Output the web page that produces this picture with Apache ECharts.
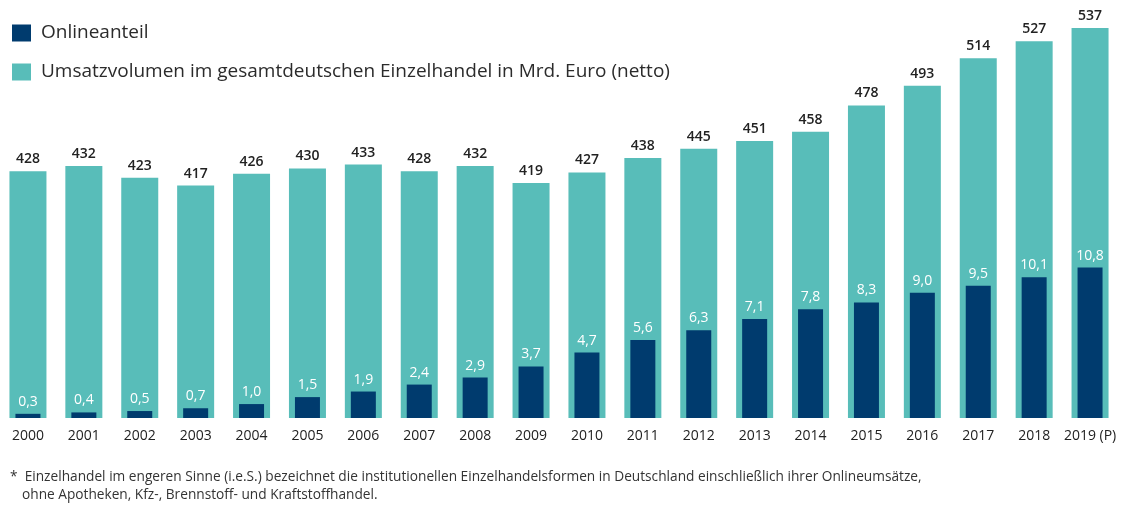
<!DOCTYPE html>
<html>
<head>
<meta charset="utf-8">
<script src="https://cdn.jsdelivr.net/npm/echarts@6/dist/echarts.min.js"></script>
<style>
  html, body { margin: 0; padding: 0; background: #fff; }
  #main { width: 1124px; height: 506px; }
</style>
</head>
<body>
<div id="main"></div>
<script>
var years = ['2000', '2001', '2002', '2003', '2004', '2005', '2006', '2007', '2008', '2009',
             '2010', '2011', '2012', '2013', '2014', '2015', '2016', '2017', '2018', '2019 (P)'];
// Umsatz in Mrd. Euro
var umsatz = [428, 432, 423, 417, 426, 430, 433, 428, 432, 419,
              427, 438, 445, 451, 458, 478, 493, 514, 527, 537];
// Onlineanteil in %
var online = [0.3, 0.4, 0.5, 0.7, 1.0, 1.5, 1.9, 2.4, 2.9, 3.7,
              4.7, 5.6, 6.3, 7.1, 7.8, 8.3, 9.0, 9.5, 10.1, 10.8];

var fontFam = '"Open Sans", "Noto Sans", sans-serif';
var teal = '#58bdb9';
var navy = '#003b6e';

var chart = echarts.init(document.getElementById('main'));

var option = {
  animation: false,
  textStyle: { fontFamily: fontFam },
  legend: {
    orient: 'vertical',
    left: 12,
    top: 23,
    padding: 0,
    itemWidth: 19,
    itemHeight: 17,
    itemGap: 19,
    icon: 'rect',
    textStyle: {
      fontSize: 19,
      lineHeight: 20,
      color: '#2b2b2b',
      fontFamily: fontFam,
      padding: [0, 0, 0, 5]
    },
    data: ['Onlineanteil', 'Umsatzvolumen im gesamtdeutschen Einzelhandel in Mrd. Euro (netto)']
  },
  grid: { left: 0, right: 6, top: 28, bottom: 88 },
  xAxis: [
    {
      type: 'category',
      data: years,
      axisLine: { show: false },
      axisTick: { show: false },
      axisLabel: { interval: 0, fontSize: 14, color: '#222', margin: 11, fontFamily: fontFam }
    },
    {
      type: 'category',
      data: years,
      show: false
    }
  ],
  yAxis: [
    { type: 'value', min: 240, max: 'dataMax', show: false },
    { type: 'value', min: 0, max: 28, show: false }
  ],
  series: [
    {
      name: 'Umsatzvolumen im gesamtdeutschen Einzelhandel in Mrd. Euro (netto)',
      type: 'bar',
      xAxisIndex: 0,
      yAxisIndex: 0,
      barWidth: 37,
      itemStyle: { color: teal },
      label: {
        show: true,
        position: 'top',
        distance: 5,
        fontSize: 14,
        fontWeight: 600,
        color: '#222',
        fontFamily: fontFam
      },
      data: umsatz
    },
    {
      name: 'Onlineanteil',
      type: 'bar',
      xAxisIndex: 1,
      yAxisIndex: 1,
      barWidth: 25,
      itemStyle: { color: navy },
      label: {
        show: true,
        position: 'top',
        distance: 5,
        fontSize: 14,
        color: '#fff',
        fontFamily: fontFam,
        formatter: function (p) { return p.value.toFixed(1).replace('.', ','); }
      },
      data: online
    }
  ],
  graphic: [
    {
      type: 'text',
      left: 10,
      top: 470,
      style: {
        text: '*  Einzelhandel im engeren Sinne (i.e.S.) bezeichnet die institutionellen Einzelhandelsformen in Deutschland einschließlich ihrer Onlineumsätze,',
        fontSize: 13.7,
        fill: '#333',
        fontFamily: fontFam
      }
    },
    {
      type: 'text',
      left: 22,
      top: 488,
      style: {
        text: 'ohne Apotheken, Kfz-, Brennstoff- und Kraftstoffhandel.',
        fontSize: 13.7,
        fill: '#333',
        fontFamily: fontFam
      }
    }
  ]
};

chart.setOption(option);
</script>
</body>
</html>
